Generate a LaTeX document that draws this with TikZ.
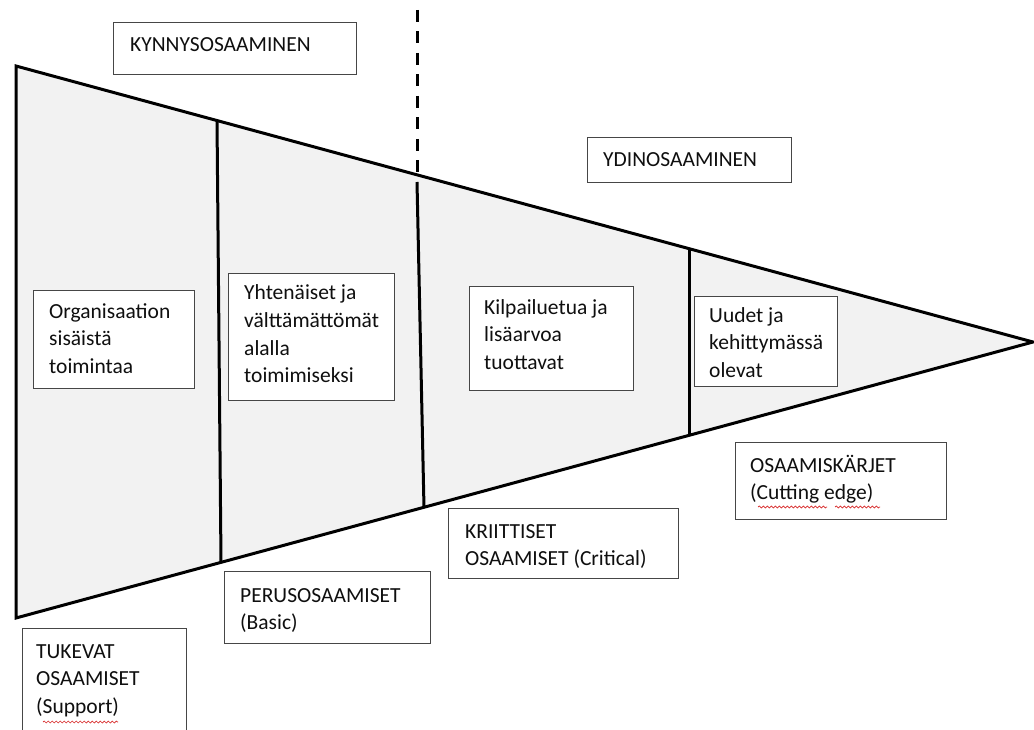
\documentclass[tikz,border=0pt]{standalone}
\usepackage{fontspec}
\setmainfont{Carlito}
\usetikzlibrary{decorations.pathmorphing}
\definecolor{fillgray}{RGB}{242,242,242}
\definecolor{boxline}{RGB}{70,70,70}
\definecolor{txtcol}{RGB}{15,15,15}
\definecolor{squig}{RGB}{215,40,40}
\begin{document}
\begin{tikzpicture}[x=1pt,y=-1pt,
  edge/.style={line width=3pt, draw=black},
  boxst/.style={draw=boxline, line width=1.1pt, fill=white, rectangle, inner sep=0pt, anchor=north west},
  txt/.style={font=\fontsize{21.5}{27.5}\selectfont, text=txtcol, inner sep=0pt, anchor=base west},
  squiggle/.style={draw=squig, line width=0.7pt, decorate, decoration={snake, amplitude=1pt, segment length=4pt}}
]
\useasboundingbox (0,0) rectangle (1034,730);
\fill[white] (0,0) rectangle (1034,730);

% triangle
\coordinate (A) at (16,66);
\coordinate (T) at (1033,342);
\coordinate (B) at (16,618);
\filldraw[fill=fillgray, edge, line join=miter] (A) -- (T) -- (B) -- cycle;

% dividers
\coordinate (d1t) at (217,120);
\coordinate (d1b) at (221,562);
\coordinate (d2t) at (417,182);
\coordinate (d2b) at (424,508);
\coordinate (d3t) at (689,250);
\coordinate (d3b) at (689,436);
\coordinate (dst) at (417,10);
\coordinate (dsb) at (417,174);
\draw[edge] (d1t) -- (d1b);
\draw[edge] (d2t) -- (d2b);
\draw[edge] (d3t) -- (d3b);
\draw[edge, dash pattern=on 12pt off 9.5pt] (dst) -- (dsb);

% boxes
\node[boxst, minimum width=243pt, minimum height=52pt] (kyn) at (113,22) {};
\node[boxst, minimum width=204pt, minimum height=45pt] (ydin) at (587,137) {};
\node[boxst, minimum width=161pt, minimum height=98pt] (org) at (33,290) {};
\node[boxst, minimum width=166pt, minimum height=127pt] (yht) at (228,273) {};
\node[boxst, minimum width=164pt, minimum height=104pt] (kil) at (469,286) {};
\node[boxst, minimum width=143pt, minimum height=90pt] (uud) at (694,296) {};
\node[boxst, minimum width=164pt, minimum height=112pt] (tuk) at (22,628) {};
\node[boxst, minimum width=206pt, minimum height=72pt] (per) at (224,571) {};
\node[boxst, minimum width=230pt, minimum height=70pt] (kri) at (448,508) {};
\node[boxst, minimum width=211pt, minimum height=77pt] (osa) at (735,442) {};

% texts
\node[txt] (kynt) at (130,52) {KYNNYSOSAAMINEN};
\node[txt] (ydint) at (603,167) {YDINOSAAMINEN};
\node[txt] (orgt) at (49,318) {\vtop{\hbox{Organisaation}\hbox{sisäistä}\hbox{toimintaa}}};
\node[txt] (yhtt) at (244,300) {\vtop{\hbox{Yhtenäiset ja}\hbox{välttämättömät}\hbox{alalla}\hbox{toimimiseksi}}};
\node[txt] (kilt) at (484,314) {\vtop{\hbox{Kilpailuetua ja}\hbox{lisäarvoa}\hbox{tuottavat}}};
\node[txt] (uudt) at (709,322) {\vtop{\hbox{Uudet ja}\hbox{kehittymässä}\hbox{olevat}}};
\node[txt] (tukt) at (36,658) {\vtop{\hbox{TUKEVAT}\hbox{OSAAMISET}\hbox{(Support)}}};
\node[txt] (pert) at (240,602) {\vtop{\hbox{PERUSOSAAMISET}\hbox{(Basic)}}};
\node[txt] (krit) at (465,538) {\vtop{\hbox{KRIITTISET}\hbox{OSAAMISET (Critical)}}};
\node[txt] (osat) at (750,472) {\vtop{\hbox{OSAAMISKÄRJET}\hbox{(Cutting edge)}}};

% spell-check squiggles
\coordinate (s1a) at (43,722);
\coordinate (s1b) at (118,722);
\coordinate (s2a) at (758,507);
\coordinate (s2b) at (827,507);
\coordinate (s3a) at (835,507);
\coordinate (s3b) at (880,507);
\draw[squiggle] (s1a) -- (s1b);
\draw[squiggle] (s2a) -- (s2b);
\draw[squiggle] (s3a) -- (s3b);
\end{tikzpicture}
\end{document}
